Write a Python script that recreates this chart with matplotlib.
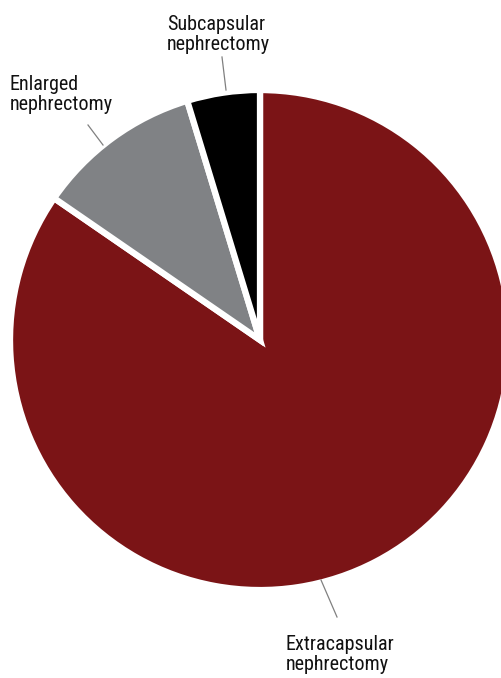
import matplotlib.pyplot as plt

W, H = 502, 678

# slices, clockwise from 12 o'clock
labels = ["Extracapsular\nnephrectomy", "Enlarged\nnephrectomy", "Subcapsular\nnephrectomy"]
shares = [84.6, 10.7, 4.7]
colors = ["#7b1416", "#808285", "#000000"]

# label anchors (left, baseline of last line; pixels from top) and leader lines
label_pos = [(286, 670), (10, 110), (167, 50)]
leaders = [((321, 580), (337, 617)), ((88, 125), (103, 145)), ((222, 57), (226, 90))]

plt.rcParams['font.family'] = ['Roboto Condensed', 'Archivo Narrow', 'Liberation Sans', 'DejaVu Sans']

fig = plt.figure(figsize=(W / 100, H / 100), dpi=100)
ax = fig.add_axes([0, 0, 1, 1])

ax.pie(shares, colors=colors, explode=[0.05, 0.03, 0.02],
       startangle=90, counterclock=False,
       center=(260, H - 340), radius=250,
       wedgeprops=dict(edgecolor="white", linewidth=4.5))

for (x, y), text in zip(label_pos, labels):
    ax.text(x, H - y, text, ha="left", va="baseline", fontsize=14.5,
            linespacing=1.1, color="#111111")

for (x0, y0), (x1, y1) in leaders:
    ax.plot([x0, x1], [H - y0, H - y1], color="#808080", lw=0.9)

ax.set_xlim(0, W)
ax.set_ylim(0, H)
ax.set_aspect("equal")
ax.axis("off")

fig.savefig("out.png", dpi=100)
